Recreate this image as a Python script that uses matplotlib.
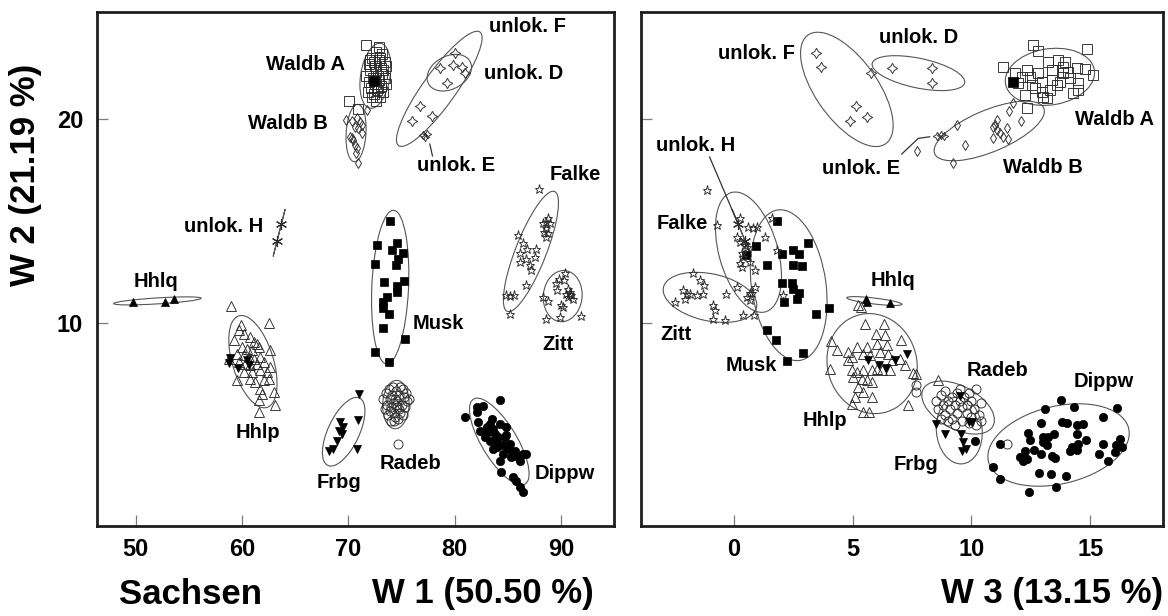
import numpy as np
import matplotlib
matplotlib.use("Agg")
import matplotlib.pyplot as plt
from matplotlib.patches import Ellipse

plt.rcParams["font.family"] = ["Liberation Sans", "DejaVu Sans"]
plt.rcParams["font.weight"] = "bold"

# ---------------------------------------------------------------------------
# Scores per population: (W1, W2) for the left map, (W3, W2) for the right map
# ---------------------------------------------------------------------------
WALDB_A_W1 = [71.7, 72.9, 72.6, 73.2, 72.2, 72.9, 73.4, 71.9, 72.5, 73.1, 73.5, 72.0, 72.6,
              73.2, 71.7, 72.3, 72.9, 73.4, 71.9, 72.5, 73.1, 73.5, 72.1, 72.7, 73.3, 71.8,
              72.4, 73.0, 72.6, 70.1, 70.9, 73.3, 72.8, 72.2, 72.0, 73.0, 72.4, 72.8]
WALDB_A_W2L = [23.6, 23.5, 23.3, 23.2, 23.0, 22.9, 22.8, 22.7, 22.6, 22.5, 22.6, 22.4, 22.3,
               22.2, 22.1, 22.0, 21.9, 22.0, 21.8, 21.7, 21.6, 21.7, 21.5, 21.4, 21.3, 21.3,
               21.2, 21.1, 20.9, 20.9, 20.5, 22.4, 22.1, 21.1, 22.9, 23.0, 22.8, 21.5]
WALDB_A_W3 = [12.61, 12.82, 14.86, 11.35, 11.84, 12.33, 13.24, 13.66, 13.94, 14.08, 14.43, 14.79,
              15.14, 11.98, 12.47, 12.96, 13.38, 13.73, 13.87, 14.15, 14.50, 14.50, 12.68, 12.26,
              12.96, 13.31, 13.17, 12.33, 13.03, 13.59, 14.29, 12.54, 12.82, 12.12, 13.87, 13.38]
WALDB_A_W2R = [23.63, 23.35, 23.42, 22.56, 22.24, 22.40, 22.81, 22.89, 22.81, 22.32, 22.48, 22.43,
               22.16, 21.75, 22.07, 21.83, 21.91, 21.83, 22.24, 21.99, 21.75, 21.42, 21.50, 21.18,
               21.34, 21.42, 21.01, 20.52, 21.09, 21.67, 21.26, 21.67, 22.24, 22.07, 22.56, 22.40]
WALDB_A_TYPE_L = ([72.4], [21.88])
WALDB_A_TYPE_R = ([11.77], [21.83])

WALDB_B_W1 = [69.81, 70.30, 70.77, 71.08, 71.24, 70.92, 70.61, 70.14, 70.30, 70.45, 70.61, 70.77,
              70.70, 70.92, 71.24, 71.71]
WALDB_B_W2L = [19.95, 19.92, 20.03, 19.87, 19.71, 19.54, 19.62, 19.13, 19.05, 18.97, 18.73, 18.56,
               18.32, 17.86, 19.30, 20.44]
WALDB_B_W3 = [11.77, 11.60, 12.08, 11.07, 10.99, 10.92, 11.07, 11.20, 11.34, 11.49, 11.55, 10.90,
              9.73, 9.21, 9.38, 7.69]
WALDB_B_W2R = [20.80, 20.41, 19.92, 19.95, 19.71, 19.62, 19.46, 19.30, 19.13, 19.54, 19.00, 19.05,
               18.73, 17.83, 19.71, 18.45]

UNLOK_D_W1 = [78.60, 80.64, 79.23]
UNLOK_D_W2L = [22.49, 22.56, 21.75]
UNLOK_D_W3 = [6.64, 8.33, 8.33]
UNLOK_D_W2R = [22.49, 22.49, 21.75]

UNLOK_F_W1 = [80.01, 79.85, 80.95, 76.72, 75.94, 77.82]
UNLOK_F_W2L = [23.22, 22.65, 22.27, 20.64, 19.92, 20.15]
UNLOK_F_W3 = [3.47, 3.66, 5.78, 5.13, 4.88, 5.59]
UNLOK_F_W2R = [23.22, 22.56, 22.24, 20.64, 19.92, 20.11]

UNLOK_E_W1 = [77.0, 77.2, 77.35]
UNLOK_E_W2L = [19.22, 19.12, 19.28]
UNLOK_E_W3 = [8.55, 8.72, 8.86]
UNLOK_E_W2R = [19.15, 19.22, 19.17]

UNLOK_H_W1 = [63.69, 63.29]
UNLOK_H_W2L = [14.84, 14.02]
UNLOK_H_W3 = [0.18, 0.47]
UNLOK_H_W2R = [14.84, 14.02]

HHLQ_W1 = [49.72, 52.78, 53.63]
HHLQ_W2L = [11.04, 11.04, 11.21]
HHLQ_W3 = [5.56, 5.59, 6.58]
HHLQ_W2R = [11.21, 11.06, 11.00]

HHLP_W1 = [58.99, 62.50, 59.90, 59.68, 60.15, 60.77, 59.21, 61.09, 61.40, 59.99, 60.46, 60.93,
           61.56, 62.65, 58.74, 59.52, 60.15, 60.62, 61.09, 61.71, 59.68, 60.30, 60.77, 61.40,
           62.03, 62.65, 60.15, 60.93, 61.71, 62.34, 59.52, 60.77, 61.24, 62.03, 62.50, 61.71,
           61.87, 62.97, 61.56, 63.12, 61.56]
HHLP_W2L = [10.85, 10.02, 9.90, 9.66, 9.49, 9.33, 9.17, 9.08, 9.00, 8.84, 8.76, 8.68, 8.84, 8.71,
            8.27, 8.51, 8.43, 8.35, 8.27, 8.35, 8.10, 8.02, 7.94, 8.02, 8.10, 7.86, 7.61, 7.61,
            7.70, 7.61, 7.21, 7.29, 7.12, 7.21, 7.29, 6.80, 6.55, 6.63, 6.23, 5.98, 5.65]
HHLP_W3 = [5.24, 5.52, 6.32, 5.98, 6.36, 7.02, 5.17, 5.59, 6.01, 6.43, 4.33, 4.82, 4.96, 4.82,
           5.45, 5.73, 6.15, 6.50, 6.64, 6.99, 7.20, 7.55, 4.96, 5.17, 5.45, 5.80, 6.01, 5.03,
           5.38, 5.59, 5.80, 6.22, 6.57, 5.24, 5.45, 5.10, 4.96, 5.80, 5.42, 5.70, 7.34, 8.61,
           4.08, 4.03, 7.66, 5.36]
HHLP_W2R = [10.88, 9.98, 9.98, 9.49, 9.41, 9.17, 8.84, 8.84, 9.00, 8.92, 8.68, 8.59, 8.35, 8.19,
            8.51, 8.43, 8.59, 8.51, 8.19, 8.27, 7.94, 7.56, 7.70, 7.61, 7.70, 7.70, 7.78, 7.37,
            7.29, 7.21, 7.12, 7.70, 7.70, 6.88, 6.63, 6.39, 6.06, 6.39, 5.65, 5.65, 5.98, 7.21,
            9.13, 7.78, 7.53, 10.80]
HHLP_DOWN_W1 = [58.86, 59.64, 58.80, 60.43, 60.70]
HHLP_DOWN_W2L = [8.30, 7.80, 8.05, 8.20, 7.95]
HHLP_DOWN_W3 = [7.30, 6.42, 5.63, 6.80, 6.10]
HHLP_DOWN_W2R = [8.48, 7.83, 8.19, 8.22, 7.95]

MUSK_W1 = [73.96, 72.71, 74.53, 74.06, 75.15, 74.68, 74.46, 72.49, 73.34, 75.22, 74.59, 74.53,
           73.65, 73.27, 73.21, 73.84, 73.27, 75.34, 72.49, 73.84]
MUSK_W2L = [15.02, 13.82, 13.91, 13.58, 13.42, 13.17, 12.84, 12.89, 12.03, 12.07, 11.81, 11.53,
            11.29, 11.04, 10.77, 10.47, 9.79, 9.25, 8.59, 8.10]
MUSK_W3 = [1.83, 0.93, 2.01, 2.50, 2.75, 3.13, 2.50, 2.85, 1.40, 2.01, 2.43, 2.50, 2.75, 2.67,
           2.11, 4.02, 3.45, 1.38, 1.77, 2.89, 2.25, 0.51]
MUSK_W2R = [15.02, 13.77, 13.38, 13.58, 13.38, 13.91, 12.84, 12.79, 12.84, 11.98, 11.98, 11.70,
            11.49, 11.21, 11.04, 10.75, 10.47, 9.69, 9.17, 8.54, 8.15, 13.33]

FALKE_W1 = [87.93, 88.78, 88.56, 88.31, 88.94, 88.63, 88.37, 88.78, 88.56, 85.96, 86.43, 86.80,
            86.12, 86.68, 87.69, 87.53, 87.12, 87.22, 86.12, 86.68, 84.87, 85.18, 85.55, 85.18]
FALKE_W2L = [16.55, 15.13, 14.97, 14.89, 14.89, 14.64, 14.48, 14.40, 14.23, 14.31, 13.91, 13.66,
             13.42, 13.17, 13.66, 13.25, 12.84, 12.63, 13.00, 11.86, 11.37, 11.32, 11.37, 10.44]
FALKE_W3 = [-1.15, -0.73, 0.25, 0.60, 0.81, 0.96, 0.11, 0.25, 0.46, 0.53, 0.32, 0.39, 0.25, 0.32,
            0.67, 0.88, 1.31, 1.80, 0.88, 0.67, 0.53, 0.84, 1.59, 2.06]
FALKE_W2R = [16.52, 14.80, 15.13, 14.72, 14.64, 14.72, 14.23, 13.99, 13.82, 13.74, 13.42, 13.25,
             12.93, 12.76, 13.00, 12.60, 14.23, 13.58, 11.78, 11.46, 11.29, 10.43, 15.13, 11.37]

ZITT_W1 = [90.35, 89.81, 89.57, 90.25, 90.66, 90.82, 90.51, 90.98, 90.66, 91.13, 89.62, 88.31,
           88.78, 90.04, 90.19, 89.88, 88.56, 91.92, 90.88]
ZITT_W2L = [12.47, 12.19, 11.95, 12.11, 11.70, 11.53, 11.45, 11.37, 11.29, 11.21, 11.62, 11.29,
            11.09, 10.88, 10.80, 10.31, 10.23, 10.36, 11.42]
ZITT_W3 = [-1.74, -1.43, -1.26, -2.16, -1.99, -1.85, -1.57, -1.29, -2.06, -2.49, -0.90, -0.80,
           -0.90, -0.38, -0.34, 0.11, 0.39, 0.75, 0.67]
ZITT_W2R = [12.47, 12.11, 11.86, 11.62, 11.45, 11.42, 11.37, 11.45, 11.21, 11.05, 10.88, 10.64,
            10.23, 10.15, 11.42, 11.78, 10.39, 11.48, 11.13]

RADEB_W1 = [73.3, 73.4, 73.5, 73.6, 73.7, 73.8, 73.9, 74.0, 74.0, 74.1, 74.2, 74.2, 74.3, 74.4,
            74.4, 74.5, 74.6, 74.6, 74.7, 74.8, 74.8, 74.9, 75.0, 75.1, 75.2, 75.3, 75.4, 75.5,
            75.7, 74.3, 74.9, 73.9, 74.5, 75.1, 74.68]
RADEB_W2L = [6.3, 5.8, 6.6, 6.0, 5.5, 6.8, 6.3, 5.2, 5.9, 6.5, 6.9, 6.1, 5.6, 6.3, 5.4, 6.7, 5.9,
             6.2, 5.3, 6.5, 5.8, 6.9, 6.0, 5.5, 6.4, 5.9, 6.6, 6.2, 6.3, 5.2, 5.6, 5.7, 6.0, 6.8,
             4.10]
RADEB_W3 = [8.5, 8.6, 8.7, 8.8, 8.9, 8.9, 9.0, 9.1, 9.2, 9.2, 9.3, 9.4, 9.4, 9.5, 9.6, 9.6, 9.7,
            9.8, 9.8, 9.9, 10.0, 10.0, 10.1, 10.2, 10.3, 10.4, 10.4, 9.0, 9.5, 8.7, 9.3, 9.9,
            7.67, 7.67, 11.51, 10.2]
RADEB_W2R = [6.2, 5.8, 6.5, 6.0, 5.5, 6.7, 6.2, 5.8, 6.4, 5.3, 6.0, 6.6, 5.6, 6.2, 5.9, 5.2, 6.4,
             5.6, 6.0, 6.6, 5.4, 6.2, 5.8, 6.8, 5.5, 6.1, 5.2, 5.2, 6.8, 5.3, 5.0, 5.1, 6.96,
             6.63, 4.07, 5.0]

FRBG_W1 = [71.02, 69.20, 69.45, 69.14, 69.36, 68.95, 70.92, 68.57, 68.20, 70.77]
FRBG_W2L = [6.52, 5.16, 4.92, 4.75, 4.59, 4.26, 5.25, 3.86, 3.77, 3.86]
FRBG_W3 = [9.52, 8.51, 8.89, 9.55, 9.63, 9.77, 9.59, 9.91, 10.01]
FRBG_W2R = [6.42, 5.08, 4.59, 4.59, 4.18, 3.86, 3.77, 5.16, 5.16]

DIPPW_W1 = [80.95, 82.05, 82.67, 84.24, 82.20, 83.30, 84.24, 82.67, 83.77, 84.71, 85.18, 85.65,
            86.43, 86.12, 84.40, 85.49, 85.81, 86.12, 86.43, 83.93, 84.55, 83.30, 82.83, 82.36,
            84.87, 83.61, 84.08, 83.14, 85.02, 84.24, 85.34, 83.61, 82.05, 83.46, 84.87, 85.81,
            82.99, 83.93, 84.55, 86.74]
DIPPW_W2L = [5.41, 5.90, 5.93, 6.23, 5.16, 5.08, 5.08, 4.67, 4.59, 4.43, 4.10, 3.77, 3.61, 3.28,
             2.71, 2.47, 2.30, 1.98, 1.73, 3.94, 3.61, 4.26, 4.43, 4.75, 4.92, 4.84, 4.43, 4.67,
             3.86, 3.28, 3.45, 3.86, 5.65, 5.33, 4.51, 3.53, 4.92, 4.18, 4.02, 3.61]
DIPPW_W3 = [13.76, 13.10, 14.32, 16.15, 12.92, 13.80, 14.04, 14.43, 14.69, 15.53, 12.40, 12.47,
            13.00, 13.24, 13.48, 14.46, 14.83, 11.20, 12.64, 12.26, 13.03, 13.17, 14.22, 14.50,
            14.43, 14.15, 15.53, 16.09, 16.33, 16.26, 16.05, 15.39, 12.05, 12.16, 12.33, 12.92,
            13.38, 13.52, 15.77, 10.92, 11.20, 12.86, 13.34, 13.98, 12.44, 13.56, 10.15]
DIPPW_W2R = [6.23, 5.82, 5.90, 5.87, 5.11, 5.16, 5.11, 5.00, 5.08, 5.41, 4.62, 4.30, 4.43, 4.46,
             4.56, 4.59, 4.30, 4.10, 3.81, 3.74, 4.18, 4.05, 3.97, 4.07, 3.81, 3.74, 4.07, 4.02,
             3.94, 4.35, 3.69, 3.58, 3.48, 3.25, 3.37, 3.58, 3.50, 3.42, 3.25, 2.99, 2.39, 2.66,
             2.63, 2.55, 1.73, 1.98, 4.26]

X1_TICKS = [50, 60, 70, 80, 90]
X3_TICKS = [0, 5, 10, 15]
Y_TICKS = [10, 20]

# ---------------------------------------------------------------------------
# Marker styles
# ---------------------------------------------------------------------------
EDGE = "#2b2b2b"
open_kw = dict(mfc="none", mec=EDGE, mew=0.65)
solid_kw = dict(mfc="black", mec="black", mew=0.5)
STYLES = {
    "waldb_a": dict(marker="s", ms=6.8, **open_kw),
    "waldb_a_type": dict(marker="s", ms=6.8, **solid_kw),
    "waldb_b": dict(marker="d", ms=5.0, **open_kw),
    "unlok_d": dict(marker=(4, 1, 0), ms=7.5, **open_kw),
    "unlok_f": dict(marker=(4, 1, 0), ms=7.5, **open_kw),
    "unlok_e": dict(marker=(4, 1, 0), ms=6.0, **open_kw),
    "unlok_h": dict(marker=(6, 2, 0), ms=8.0, mec=EDGE, mew=0.8),
    "hhlq": dict(marker="^", ms=6.0, **solid_kw),
    "hhlp": dict(marker="^", ms=6.8, **open_kw),
    "hhlp_down": dict(marker="v", ms=6.0, **solid_kw),
    "musk": dict(marker="s", ms=6.0, **solid_kw),
    "falke": dict(marker="*", ms=6.5, **open_kw),
    "zitt": dict(marker="*", ms=6.5, **open_kw),
    "radeb": dict(marker="o", ms=6.5, **open_kw),
    "frbg": dict(marker="v", ms=6.2, **solid_kw),
    "dippw": dict(marker="o", ms=6.0, **solid_kw),
}

# group key, left (W1, W2), right (W3, W2), draw dispersion ellipse
GROUPS = [
    ("waldb_a", (WALDB_A_W1, WALDB_A_W2L), (WALDB_A_W3, WALDB_A_W2R), True),
    ("waldb_a_type", WALDB_A_TYPE_L, WALDB_A_TYPE_R, False),
    ("waldb_b", (WALDB_B_W1, WALDB_B_W2L), (WALDB_B_W3, WALDB_B_W2R), True),
    ("unlok_d", (UNLOK_D_W1, UNLOK_D_W2L), (UNLOK_D_W3, UNLOK_D_W2R), True),
    ("unlok_f", (UNLOK_F_W1, UNLOK_F_W2L), (UNLOK_F_W3, UNLOK_F_W2R), True),
    ("unlok_e", (UNLOK_E_W1, UNLOK_E_W2L), (UNLOK_E_W3, UNLOK_E_W2R), False),
    ("unlok_h", (UNLOK_H_W1, UNLOK_H_W2L), (UNLOK_H_W3, UNLOK_H_W2R), True),
    ("hhlq", (HHLQ_W1, HHLQ_W2L), (HHLQ_W3, HHLQ_W2R), True),
    ("hhlp", (HHLP_W1, HHLP_W2L), (HHLP_W3, HHLP_W2R), True),
    ("hhlp_down", (HHLP_DOWN_W1, HHLP_DOWN_W2L), (HHLP_DOWN_W3, HHLP_DOWN_W2R), False),
    ("musk", (MUSK_W1, MUSK_W2L), (MUSK_W3, MUSK_W2R), True),
    ("falke", (FALKE_W1, FALKE_W2L), (FALKE_W3, FALKE_W2R), True),
    ("zitt", (ZITT_W1, ZITT_W2L), (ZITT_W3, ZITT_W2R), True),
    ("radeb", (RADEB_W1, RADEB_W2L), (RADEB_W3, RADEB_W2R), True),
    ("frbg", (FRBG_W1, FRBG_W2L), (FRBG_W3, FRBG_W2R), True),
    ("dippw", (DIPPW_W1, DIPPW_W2L), (DIPPW_W3, DIPPW_W2R), True),
]


def dispersion_ellipse(ax, x, y, nstd=2.0):
    """Two-standard-deviation ellipse of the sample covariance."""
    x = np.asarray(x, float)
    y = np.asarray(y, float)
    cov = np.cov(x, y)
    vals, vecs = np.linalg.eigh(cov)
    order = vals.argsort()[::-1]
    vals, vecs = vals[order], vecs[:, order]
    angle = np.degrees(np.arctan2(vecs[1, 0], vecs[0, 0]))
    w, h = 2 * nstd * np.sqrt(np.clip(vals, 0, None))
    ax.add_patch(Ellipse((x.mean(), y.mean()), w, h, angle=angle, fill=False,
                         ec="#555555", lw=0.8, zorder=2))


fig = plt.figure(figsize=(11.68, 6.16), dpi=100)
axL = fig.add_axes([97 / 1168, 90 / 616, 517 / 1168, 514.5 / 616])
axR = fig.add_axes([640.5 / 1168, 90 / 616, 522.3 / 1168, 514.5 / 616])

for ax, side in ((axL, 1), (axR, 2)):
    for key, left, right, with_ellipse in GROUPS:
        xs, ys = left if side == 1 else right
        if with_ellipse:
            dispersion_ellipse(ax, xs, ys)
        ax.plot(xs, ys, linestyle="none", zorder=3, **STYLES[key])

# axes ranges, ticks and frames
axL.set_xlim(46.36, 94.98)
axR.set_xlim(-3.94, 18.06)
for ax in (axL, axR):
    ax.set_ylim(0.08, 25.26)
    ax.set_yticks(Y_TICKS)
    ax.tick_params(direction="in", length=8, width=0.9, color="#7a7a7a",
                   labelsize=17, pad=9)
    ax.tick_params(axis="y", pad=10)
    for sp in ax.spines.values():
        sp.set_linewidth(2.0)
        sp.set_color("#1e1e1e")
axL.set_xticks(X1_TICKS)
axR.set_xticks(X3_TICKS)
axR.tick_params(axis="y", labelleft=False)
for ax in (axL, axR):
    for lab in ax.get_xticklabels() + ax.get_yticklabels():
        lab.set_fontweight("bold")

# population labels
LABEL_KW = dict(fontsize=14.5, fontweight="bold", ha="center", va="center", zorder=5)
LEFT_LABELS = {
    "Waldb A": (66.0, 22.65), "Waldb B": (64.27, 19.78), "unlok. F": (86.87, 24.53),
    "unlok. D": (86.49, 22.23), "unlok. E": (80.10, 17.70), "Falke": (91.30, 17.28),
    "unlok. H": (58.30, 14.73), "Hhlq": (51.95, 12.03), "Musk": (78.46, 9.98),
    "Zitt": (89.74, 8.95), "Hhlp": (61.45, 4.68), "Radeb": (75.87, 3.16),
    "Frbg": (69.11, 2.21), "Dippw": (90.35, 2.65),
}
RIGHT_LABELS = {
    "unlok. F": (0.93, 23.22), "unlok. D": (7.78, 24.0), "Waldb A": (16.02, 19.95),
    "unlok. E": (5.34, 17.58), "Waldb B": (13.0, 17.62), "unlok. H": (-1.62, 18.69),
    "Falke": (-2.16, 14.89), "Hhlq": (6.68, 12.11), "Zitt": (-2.44, 9.46),
    "Musk": (0.72, 7.94), "Hhlp": (3.81, 5.25), "Radeb": (11.11, 7.70),
    "Dippw": (15.58, 7.17), "Frbg": (7.68, 3.09),
}
for ax, labels in ((axL, LEFT_LABELS), (axR, RIGHT_LABELS)):
    for text, (x, y) in labels.items():
        ax.text(x, y, text, **LABEL_KW)

# leader lines
axL.plot([77.66, 77.91], [18.77, 18.19], color="#333", lw=0.9, zorder=4)
axR.plot([7.06, 7.76, 8.24], [18.28, 19.05, 19.13], color="#333", lw=0.9, zorder=4)
axR.plot([-1.03, 0.18], [18.14, 14.84], color="#333", lw=0.9, zorder=4)

# axis titles
TITLE_KW = dict(fontsize=25, fontweight="bold", va="center")
fig.text(190.7 / 1168, 1 - 594 / 616, "Sachsen", ha="center", **TITLE_KW)
fig.text(483 / 1168, 1 - 594 / 616, "W 1 (50.50 %)", ha="center", **TITLE_KW)
fig.text(1163 / 1168, 1 - 594 / 616, "W 3 (13.15 %)", ha="right", **TITLE_KW)
fig.text(26 / 1168, 1 - 175 / 616, "W 2 (21.19 %)", ha="center", rotation=90, **TITLE_KW)

fig.savefig("out.png", dpi=100)
